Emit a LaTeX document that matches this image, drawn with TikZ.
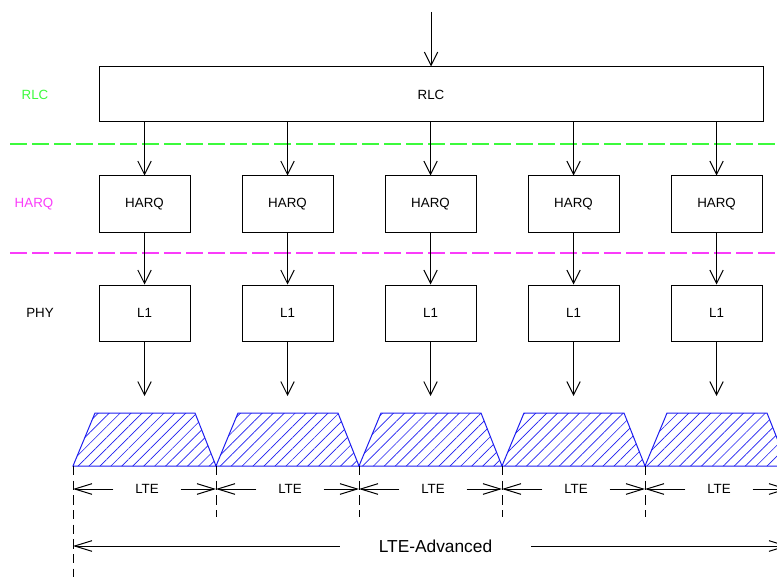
\documentclass[tikz,border=0pt]{standalone}
\usepackage{fontspec}
\setmainfont{Liberation Sans}
\usetikzlibrary{arrows.meta,patterns.meta}
\tikzset{every picture/.style={line width=0.75pt}}
\definecolor{rlcgreen}{RGB}{60,250,60}
\definecolor{harqpink}{RGB}{250,60,250}
\definecolor{carrierblue}{RGB}{30,30,240}
\tikzset{
  block/.style={draw, minimum width=68.25pt, minimum height=42pt, inner sep=0pt, font=\fontsize{10}{12}\selectfont},
  layername/.style={font=\fontsize{10}{12}\selectfont},
  flow/.style={-{Straight Barb[length=10pt,width=10pt]}},
  dimarrow/.style={-{Straight Barb[length=13pt,width=8pt]}},
  dimlabel/.style={inner xsep=16pt, font=\fontsize{10}{12}\selectfont},
  separator/.style={line width=1pt, dash pattern=on 12.75pt off 3.75pt},
  tickline/.style={dash pattern=on 7pt off 4pt},
  carrier/.style={draw=carrierblue, pattern={Lines[angle=45,distance=5.8pt,line width=0.5pt]}, pattern color=carrierblue},
}

\begin{document}
\begin{tikzpicture}[x=0.75pt,y=0.75pt,yscale=-1,xscale=1]
\clip (0,0) rectangle (777,577);

% layer names
\node[layername, text=rlcgreen] (nrlc) at (35,95) {RLC};
\node[layername, text=harqpink] (nharq) at (34,204) {HARQ};
\node[layername] (nphy) at (40,313) {PHY};

% layer separators
\draw[separator, draw=rlcgreen] (10,144) -- (777,144);
\draw[separator, draw=harqpink] (10,253) -- (777,253);

% RLC
\coordinate (in) at (431,12);
\node[block, minimum width=498pt, minimum height=41.25pt] (rlc) at (431,94.5) {RLC};
\draw[flow] (in) -- (rlc);

% HARQ entities
\node[block] (harq1) at (144.5,204) {HARQ};
\node[block] (harq2) at (287.5,204) {HARQ};
\node[block] (harq3) at (430.5,204) {HARQ};
\node[block] (harq4) at (573.5,204) {HARQ};
\node[block] (harq5) at (716.5,204) {HARQ};

% L1 entities
\node[block] (phy1) at (144.5,313) {L1};
\node[block] (phy2) at (287.5,313) {L1};
\node[block] (phy3) at (430.5,313) {L1};
\node[block] (phy4) at (573.5,313) {L1};
\node[block] (phy5) at (716.5,313) {L1};

\draw[flow] (harq1 |- rlc.south) -- (harq1);
\draw[flow] (harq2 |- rlc.south) -- (harq2);
\draw[flow] (harq3 |- rlc.south) -- (harq3);
\draw[flow] (harq4 |- rlc.south) -- (harq4);
\draw[flow] (harq5 |- rlc.south) -- (harq5);

\draw[flow] (harq1) -- (phy1);
\draw[flow] (harq2) -- (phy2);
\draw[flow] (harq3) -- (phy3);
\draw[flow] (harq4) -- (phy4);
\draw[flow] (harq5) -- (phy5);

\coordinate (out1) at (144.5,396);
\coordinate (out2) at (287.5,396);
\coordinate (out3) at (430.5,396);
\coordinate (out4) at (573.5,396);
\coordinate (out5) at (716.5,396);
\draw[flow] (phy1) -- (out1);
\draw[flow] (phy2) -- (out2);
\draw[flow] (phy3) -- (out3);
\draw[flow] (phy4) -- (out4);
\draw[flow] (phy5) -- (out5);

% component carriers
\draw[carrier] (73,466) -- (95,413) -- (195,413) -- (216,466) -- cycle;
\draw[carrier] (216,466) -- (238,413) -- (338,413) -- (359,466) -- cycle;
\draw[carrier] (359,466) -- (381,413) -- (481,413) -- (502,466) -- cycle;
\draw[carrier] (502,466) -- (524,413) -- (624,413) -- (645,466) -- cycle;
\draw[carrier] (645,466) -- (667,413) -- (767,413) -- (788,466) -- cycle;

% dimension ticks
\draw[tickline] (73,466) -- (73,577);
\draw[tickline] (216,466) -- (216,517);
\draw[tickline] (359,466) -- (359,517);
\draw[tickline] (502,466) -- (502,517);
\draw[tickline] (645,466) -- (645,517);

\coordinate (t0) at (73,489);
\coordinate (t1) at (216,489);
\coordinate (t2) at (359,489);
\coordinate (t3) at (502,489);
\coordinate (t4) at (645,489);
\coordinate (t5) at (788,489);

\node[dimlabel] (lte1) at (147,489) {LTE};
\node[dimlabel] (lte2) at (290,489) {LTE};
\node[dimlabel] (lte3) at (433,489) {LTE};
\node[dimlabel] (lte4) at (576,489) {LTE};
\node[dimlabel] (lte5) at (719,489) {LTE};

\draw[dimarrow] (lte1) -- (t0);
\draw[dimarrow] (lte1) -- (t1);
\draw[dimarrow] (lte2) -- (t1);
\draw[dimarrow] (lte2) -- (t2);
\draw[dimarrow] (lte3) -- (t2);
\draw[dimarrow] (lte3) -- (t3);
\draw[dimarrow] (lte4) -- (t3);
\draw[dimarrow] (lte4) -- (t4);
\draw[dimarrow] (lte5) -- (t4);
\draw[dimarrow] (lte5) -- (t5);

% aggregated bandwidth
\coordinate (a0) at (73,546);
\coordinate (a1) at (788,546);
\node[dimlabel, inner xsep=29pt, font=\fontsize{13}{15}\selectfont] (ltea) at (435.5,546) {LTE-Advanced};
\draw[dimarrow] (ltea) -- (a0);
\draw[dimarrow] (ltea) -- (a1);

\end{tikzpicture}
\end{document}
